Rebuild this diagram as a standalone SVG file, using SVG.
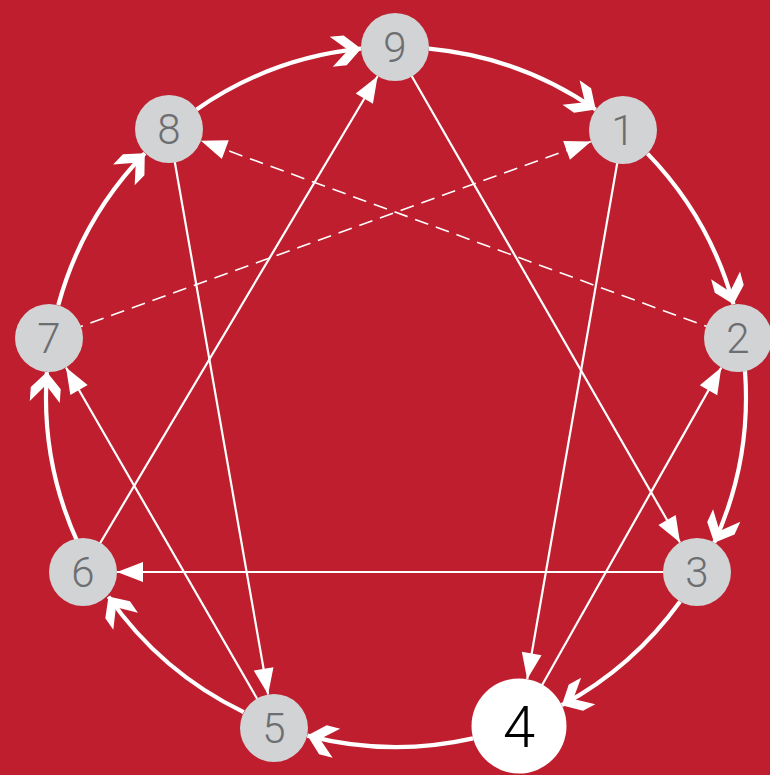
<svg xmlns="http://www.w3.org/2000/svg" width="770" height="775" viewBox="0 0 770 775">
<style>
.arc{fill:none;stroke:#fff;stroke-width:4.2;marker-end:url(#chev)}
.ln{fill:none;stroke:#fff;stroke-width:2.2;marker-end:url(#tri)}
.dash{fill:none;stroke:#fff;stroke-width:1.6;stroke-dasharray:14 8;marker-end:url(#tri)}
.node circle{fill:#D1D3D4}
.node text{font-family:Roboto,"Liberation Sans",sans-serif;font-weight:300;font-size:42px;fill:#6D6E71;text-anchor:middle}
#n4 circle{fill:#fff}
#n4 text{fill:#000;font-size:58px}
</style>
<defs>
<marker id="chev" markerUnits="userSpaceOnUse" orient="auto" viewBox="-34 -17 36 34" markerWidth="36" markerHeight="34" refX="0" refY="0" overflow="visible">
<path d="M0,0 L-16,-15 L-30,-15 L-13,0 L-30,15 L-16,15 Z" fill="#fff"/>
</marker>
<marker id="tri" markerUnits="userSpaceOnUse" orient="auto" viewBox="-27 -11 28 22" markerWidth="28" markerHeight="22" refX="0" refY="0" overflow="visible">
<path d="M0,0 L-26,-10 L-26,10 Z" fill="#fff"/>
</marker>
</defs>
<rect width="770" height="775" fill="#BE1E2D"/>
<g id="connectors">
<path class="arc" d="M428.9,48.6 A350,350 0 0 1 595.7,109.6"/>
<path class="arc" d="M647.5,153.6 A350,350 0 0 1 733.5,304.3"/>
<path class="arc" d="M745.0,371.2 A350,350 0 0 1 714.2,542.7"/>
<path class="arc" d="M680.1,601.4 A350,350 0 0 1 561.8,705.2"/>
<path class="arc" d="M473.1,738.4 A350,350 0 0 1 307.4,735.6"/>
<path class="arc" d="M243.7,712.1 A350,350 0 0 1 108.5,596.6"/>
<path class="arc" d="M78.8,544.9 A350,350 0 0 1 46.9,372.1"/>
<path class="arc" d="M58.3,305.1 A350,350 0 0 1 144.8,153.3"/>
<path class="arc" d="M196.6,109.4 A350,350 0 0 1 361.1,48.7"/>
<path class="ln" d="M395,47 L680.0,542.5"/>
<path class="ln" d="M697,572 L117,572"/>
<path class="ln" d="M83,572 L377.6,76.2"/>
<path class="ln" d="M623,130 L527.2,679.2"/>
<path class="ln" d="M519,726 L721.3,367.6"/>
<path class="dash" d="M738,338 L200.9,140.7"/>
<path class="ln" d="M169,129 L268.1,694.5"/>
<path class="ln" d="M274,728 L66.0,367.5"/>
<path class="dash" d="M49,338 L591.0,141.6"/>
</g>
<g id="n9" class="node"><circle cx="395" cy="47" r="34"/><text x="395" y="62">9</text></g>
<g id="n1" class="node"><circle cx="623" cy="130" r="34"/><text x="623" y="145">1</text></g>
<g id="n2" class="node"><circle cx="738" cy="338" r="34"/><text x="738" y="353">2</text></g>
<g id="n3" class="node"><circle cx="697" cy="572" r="34"/><text x="697" y="587">3</text></g>
<g id="n4" class="node"><circle cx="519" cy="726" r="47.5"/><text x="519" y="747">4</text></g>
<g id="n5" class="node"><circle cx="274" cy="728" r="34"/><text x="274" y="743">5</text></g>
<g id="n6" class="node"><circle cx="83" cy="572" r="34"/><text x="83" y="587">6</text></g>
<g id="n7" class="node"><circle cx="49" cy="338" r="34"/><text x="49" y="353">7</text></g>
<g id="n8" class="node"><circle cx="169" cy="129" r="34"/><text x="169" y="144">8</text></g>
</svg>
